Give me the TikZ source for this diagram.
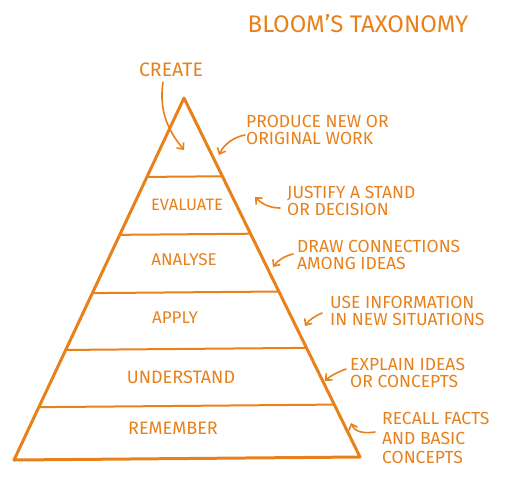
\documentclass[tikz,border=0pt]{standalone}
\usepackage{fontspec}
\setmainfont{Fira Sans}
\usetikzlibrary{arrows.meta,calc}
\definecolor{org}{HTML}{E8811C}
\begin{document}
\begin{tikzpicture}[x=1pt,y=-1pt,
  title/.style={font=\fontsize{24}{24}\selectfont, text=org, inner sep=0pt},
  lbl/.style={font=\fontsize{17}{17}\selectfont, text=org, inner sep=0pt},
  note/.style={font=\fontsize{17.5}{17.5}\selectfont, text=org, align=left, inner sep=0pt, anchor=west},
  pyr/.style={draw=org, line width=3pt, line join=round},
  band/.style={draw=org, line width=2pt, line cap=round},
  arr/.style={draw=org, line width=1.6pt, line cap=round, -{Straight Barb[length=5pt,width=9pt,line width=1.6pt]}}]
\useasboundingbox (0,0) rectangle (508,490);
% pyramid
\coordinate (apex) at (184,98);
\coordinate (bl) at (14,460);
\coordinate (br) at (360,457);
\draw[pyr] (apex) -- (bl) -- (br) -- cycle;
% bands
\foreach \t/\n in {0.218/1,0.378/2,0.539/3,0.696/4,0.854/5}{
  \coordinate (l\n) at ($(apex)!\t!(bl)$);
  \coordinate (r\n) at ($(apex)!\t!(br)$);
  \draw[band] (l\n) -- (r\n);
}
% title
\node[title] (ttl) at (358,24) {BLOOM'S TAXONOMY};
% level labels
\node[lbl, font=\fontsize{19.5}{19.5}\selectfont] (create) at (171,70) {CREATE};
\node[lbl, font=\fontsize{16.5}{16.5}\selectfont] (evaluate) at (187,205) {EVALUATE};
\node[lbl] (analyse) at (184,260) {ANALYSE};
\node[lbl] (apply) at (175,318) {APPLY};
\node[lbl, font=\fontsize{18}{18}\selectfont] (understand) at (181,377) {UNDERSTAND};
\node[lbl, font=\fontsize{18}{18}\selectfont] (remember) at (173,428) {REMEMBER};
% notes
\node[note] (n1) at (246,130) {PRODUCE NEW OR\\ORIGINAL WORK};
\node[note] (n2) at (287,201) {JUSTIFY A STAND\\OR DECISION};
\node[note] (n3) at (297,255) {DRAW CONNECTIONS\\AMONG IDEAS};
\node[note] (n4) at (330,311) {USE INFORMATION\\IN NEW SITUATIONS};
\node[note] (n5) at (350,373) {EXPLAIN IDEAS\\OR CONCEPTS};
\node[note, font=\fontsize{17.5}{19.5}\selectfont] (n6) at (382,438) {RECALL FACTS\\AND BASIC\\CONCEPTS};
% arrow targets
\coordinate (t0) at (184,150);
\coordinate (t1) at (219,155);
\coordinate (t2) at (255,197);
\coordinate (t3) at (273,267);
\coordinate (t4) at (305,326);
\coordinate (t5) at (325,381);
\coordinate (t6) at (351,423);
% arrows
\draw[arr] ($(create.south)+(-8,5)$) .. controls (158,115) and (172,135) .. (t0);
\draw[arr] ($(n1.west)+(-1,5)$) .. controls (234,137) and (224,144) .. (t1);
\draw[arr] ($(n2.west)+(-7,7)$) .. controls (270,208) and (262,204) .. (t2);
\draw[arr] ($(n3.west)+(-4,-1)$) .. controls (285,256) and (278,260) .. (t3);
\draw[arr] ($(n4.west)+(-8,2)$) .. controls (315,316) and (309,320) .. (t4);
\draw[arr] ($(n5.west)+(-4,-4)$) .. controls (338,372) and (330,376) .. (t5);
\draw[arr] ($(n6.west)+(-7,-6)$) .. controls (362,434) and (354,431) .. (t6);
\end{tikzpicture}
\end{document}
